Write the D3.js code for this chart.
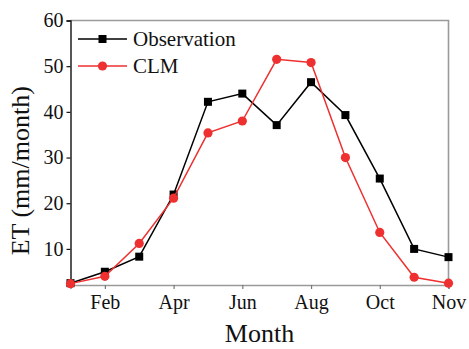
<!DOCTYPE html>
<html>
<head>
<meta charset="utf-8">
<script src="https://cdn.jsdelivr.net/npm/d3@7"></script>
<style>
  html, body { margin: 0; padding: 0; background: #fff; }
  svg { display: block; }
  text { font-family: "Liberation Serif", "Times New Roman", serif; fill: #111; }
</style>
</head>
<body>
<svg id="chart" width="469" height="349"></svg>
<script>
// Monthly evapotranspiration, observed vs. modelled
const months = ["Jan","Feb","Mar","Apr","May","Jun","Jul","Aug","Sep","Oct","Nov","Dec"];
const observation = [2.5, 5.0, 8.3, 21.9, 42.2, 44.0, 37.1, 46.5, 39.3, 25.4, 10.0, 8.2];
const clm = [2.4, 4.0, 11.2, 21.1, 35.4, 38.0, 51.5, 50.8, 30.0, 13.6, 3.8, 2.5];
const xTickMonths = ["Feb","Apr","Jun","Aug","Oct","Dec"];
const xTickLabels = ["Feb","Apr","Jun","Aug","Oct","Nov"];
const yTicks = [10, 20, 30, 40, 50, 60];
const seriesNames = ["Observation", "CLM"];

const svg = d3.select("#chart");
const plot = { left: 70.5, right: 448.5, top: 20.5, bottom: 285 };

const x = d3.scalePoint().domain(months).range([plot.left, plot.right]);
const y = d3.scaleLinear().domain([2.1, 60]).range([plot.bottom, plot.top]);

// frame: top and right edges
svg.append("path")
  .attr("d", `M${plot.left},${plot.top}H${plot.right}V${plot.bottom}`)
  .attr("fill", "none").attr("stroke", "#9a9a9a").attr("stroke-width", 1.6);

// bottom axis
const xAxis = d3.axisBottom(x)
  .tickValues(xTickMonths)
  .tickSize(4)
  .tickPadding(6)
  .tickFormat(d => xTickLabels[xTickMonths.indexOf(d)]);
const gx = svg.append("g").attr("transform", `translate(0,${plot.bottom})`).call(xAxis);
gx.attr("font-family", null);
gx.select(".domain").attr("stroke", "#9a9a9a").attr("stroke-width", 1.6);
gx.selectAll(".tick line").attr("stroke", "#777").attr("stroke-width", 1.2);
gx.selectAll(".tick text").attr("font-size", 20).attr("fill", "#111");

// left axis
const yAxis = d3.axisLeft(y).tickValues(yTicks).tickSize(4).tickPadding(3);
const gy = svg.append("g").attr("transform", `translate(${plot.left},0)`).call(yAxis);
gy.attr("font-family", null);
gy.select(".domain").attr("stroke", "#111").attr("stroke-width", 1.4);
gy.selectAll(".tick line").attr("stroke", "#111").attr("stroke-width", 1.2);
gy.selectAll(".tick text").attr("font-size", 20).attr("fill", "#111");

// axis titles
svg.append("text")
  .attr("x", (plot.left + plot.right) / 2).attr("y", 342)
  .attr("text-anchor", "middle").attr("font-size", 26)
  .text("Month");
svg.append("text")
  .attr("transform", `translate(29,${(plot.top + plot.bottom) / 2 + 18}) rotate(-90)`)
  .attr("text-anchor", "middle").attr("font-size", 26)
  .text("ET (mm/month)");

const line = d3.line().x((d, i) => x(months[i])).y(d => y(d));

const black = "#000";
const red = "#ee3030";

// observation series: squares
svg.append("path").datum(observation)
  .attr("d", line).attr("fill", "none").attr("stroke", black).attr("stroke-width", 1.5);
svg.append("g").selectAll("rect").data(observation).join("rect")
  .attr("x", (d, i) => x(months[i]) - 4).attr("y", d => y(d) - 4)
  .attr("width", 8).attr("height", 8).attr("fill", black);

// CLM series: circles
svg.append("path").datum(clm)
  .attr("d", line).attr("fill", "none").attr("stroke", red).attr("stroke-width", 1.5);
svg.append("g").selectAll("circle").data(clm).join("circle")
  .attr("cx", (d, i) => x(months[i])).attr("cy", d => y(d))
  .attr("r", 4.6).attr("fill", red);

// legend
const legend = svg.append("g");
const legendRows = [
  { name: seriesNames[0], color: black, shape: "square", cy: 39 },
  { name: seriesNames[1], color: red, shape: "circle", cy: 66 }
];
legendRows.forEach(r => {
  legend.append("line").attr("x1", 78).attr("x2", 127).attr("y1", r.cy).attr("y2", r.cy)
    .attr("stroke", r.color).attr("stroke-width", 1.5);
  if (r.shape === "square") {
    legend.append("rect").attr("x", 102.5 - 4).attr("y", r.cy - 4).attr("width", 8).attr("height", 8).attr("fill", r.color);
  } else {
    legend.append("circle").attr("cx", 102.5).attr("cy", r.cy).attr("r", 4.6).attr("fill", r.color);
  }
  legend.append("text").attr("x", 133).attr("y", r.cy + 7).attr("font-size", 21).text(r.name);
});
</script>
</body>
</html>
